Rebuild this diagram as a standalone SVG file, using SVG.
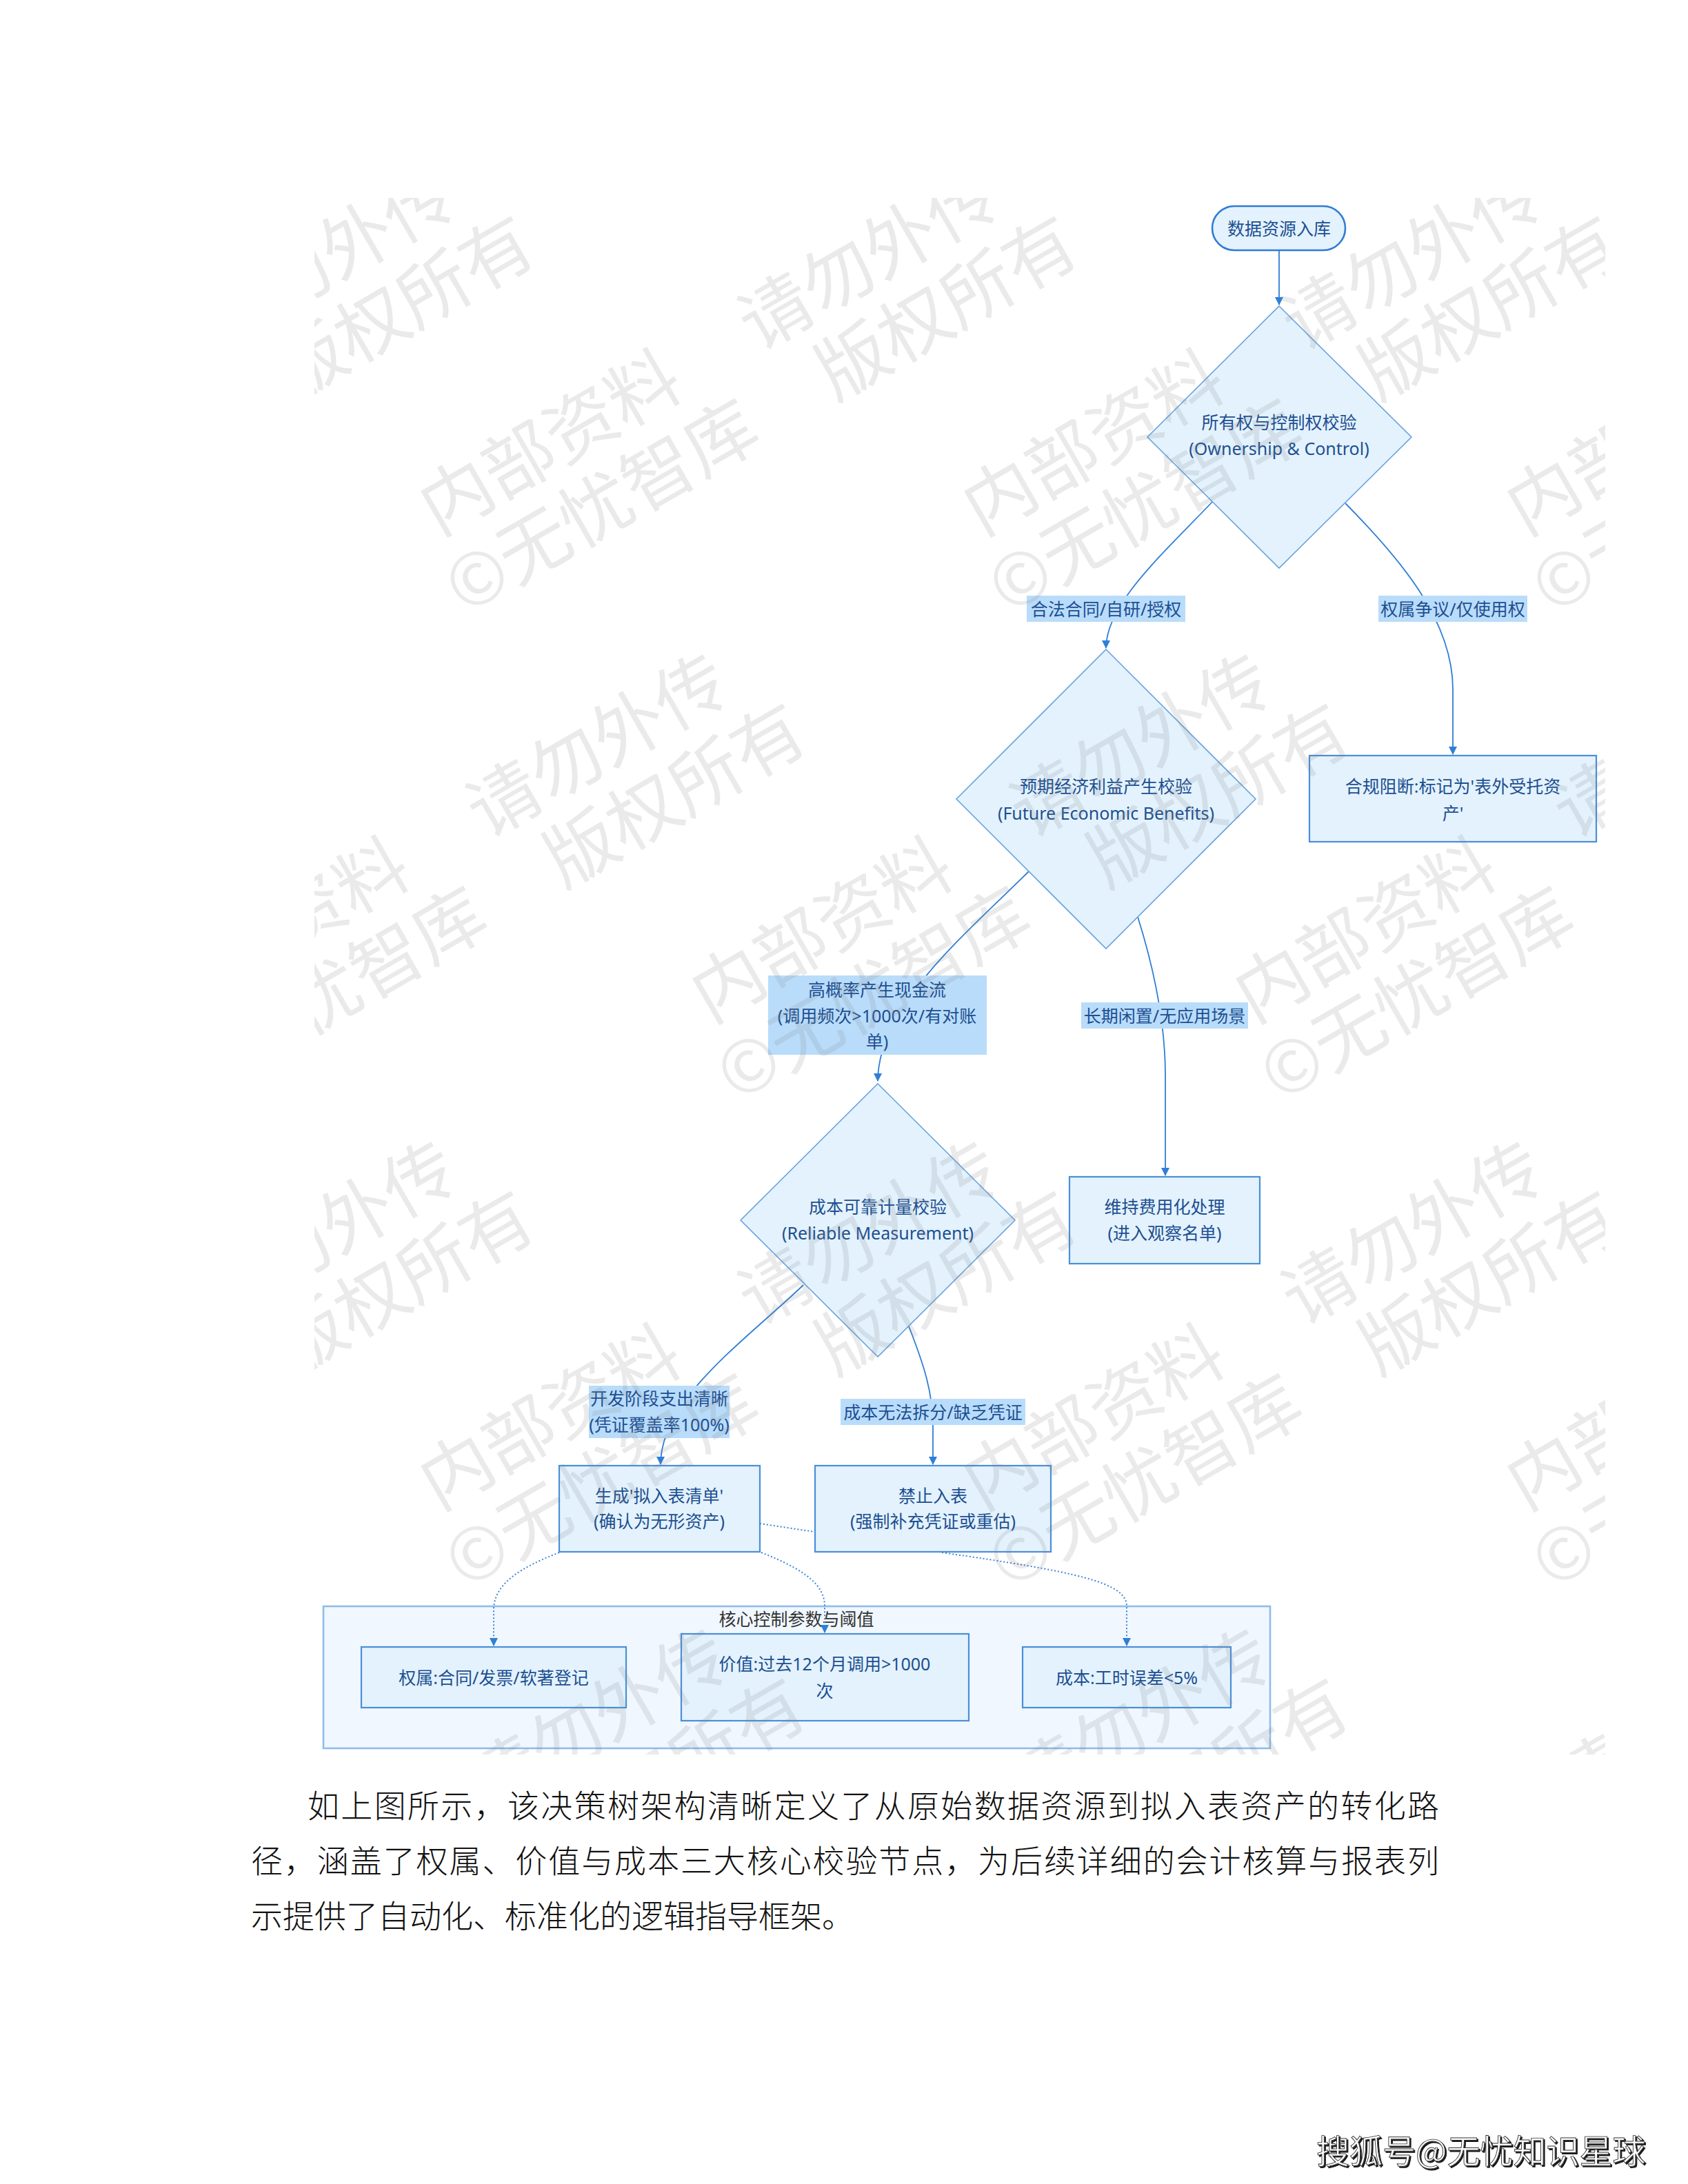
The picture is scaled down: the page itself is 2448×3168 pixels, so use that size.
<svg xmlns="http://www.w3.org/2000/svg" width="2448" height="3168" viewBox="0 0 2448 3168">
<defs>
<style>
.node{fill:#e3f2fd;stroke:#4a8fd8;stroke-width:2.2}
.pill{fill:#e3f2fd;stroke:#2f7bd6;stroke-width:2.6}
.dia{fill:#e3f2fd;stroke:#6aa3dd;stroke-width:1.6}
.cont{fill:#f0f7ff;stroke:#8fbde9;stroke-width:2.6}
.edge{fill:none;stroke:#2f7fd6;stroke-width:1.8}
.dot{fill:none;stroke:#3d86d6;stroke-width:2;stroke-dasharray:2 3}
.lbl{fill:#b9dcfa}
.t{font-family:"Noto Sans","Noto Sans CJK SC",sans-serif;font-size:25px;fill:#1d4f91;text-anchor:middle;dominant-baseline:central}
.title{fill:#333333}
.wm{font-family:"Noto Sans CJK SC",sans-serif;font-size:104px;fill:#808080;fill-opacity:0.17;word-spacing:95px}
.para{font-family:"Liberation Serif","Noto Sans CJK SC",serif;font-size:46px;font-weight:300;fill:#111111}
.foot{font-family:"Noto Sans CJK SC",sans-serif;font-size:48px;fill:#ffffff;stroke:#333333;stroke-width:0.9}
</style>
<marker id="arr" viewBox="0 0 12 12" refX="11" refY="6" markerWidth="12" markerHeight="12" markerUnits="userSpaceOnUse" orient="auto">
<path d="M0,0 L12,6 L0,12 z" fill="#2f7fd6"/>
</marker>
<clipPath id="wclip"><rect x="456" y="287" width="1872" height="2258"/></clipPath>
<filter id="sh" x="-5%" y="-20%" width="110%" height="140%"><feDropShadow dx="2" dy="2" stdDeviation="0.6" flood-color="#000000" flood-opacity="0.9"/></filter>
</defs>
<rect width="2448" height="3168" fill="#ffffff"/>

<g id="container">
<rect class="cont" x="469" y="2330" width="1373" height="206"/>
<text class="t title" x="1155" y="2348">核心控制参数与阈值</text>
</g>

<g id="connectors">
<path class="edge" d="M1855 363 L1855 442" marker-end="url(#arr)"/>
<path class="edge" d="M1758 728 C1690 800 1604 875 1604 940" marker-end="url(#arr)"/>
<path class="edge" d="M1951 730 C2030 810 2107 900 2107 1000 L2107 1094" marker-end="url(#arr)"/>
<path class="edge" d="M1492 1264 C1400 1355 1273 1460 1273 1568" marker-end="url(#arr)"/>
<path class="edge" d="M1650 1330 C1672 1400 1690 1480 1690 1560 L1690 1705" marker-end="url(#arr)"/>
<path class="edge" d="M1165 1864 C1080 1945 958 2030 958 2124" marker-end="url(#arr)"/>
<path class="edge" d="M1318 1924 C1340 1980 1353 2020 1353 2070 L1353 2124" marker-end="url(#arr)"/>
<path class="dot" d="M811 2252 C760 2272 716 2295 716 2335 L716 2387" marker-end="url(#arr)"/>
<path class="dot" d="M1104 2252 C1170 2278 1196 2300 1196 2330 L1196 2368" marker-end="url(#arr)"/>
<path class="dot" d="M1102 2210 L1182 2222"/>
<path class="dot" d="M1366 2252 C1560 2280 1634 2295 1634 2330 L1634 2387" marker-end="url(#arr)"/>
</g>

<g id="edge-labels">
<g id="lbl-legal"><rect class="lbl" x="1489" y="864" width="230" height="38"/><text class="t" x="1604" y="883">合法合同/自研/授权</text></g>
<g id="lbl-dispute"><rect class="lbl" x="1999" y="864" width="216" height="38"/><text class="t" x="2107" y="883">权属争议/仅使用权</text></g>
<g id="lbl-cash"><rect class="lbl" x="1114" y="1415" width="317" height="115"/><text class="t" x="1272" y="1435">高概率产生现金流</text><text class="t" x="1272" y="1473">(调用频次&gt;1000次/有对账</text><text class="t" x="1272" y="1510">单)</text></g>
<g id="lbl-idle"><rect class="lbl" x="1568" y="1454" width="242" height="38"/><text class="t" x="1689" y="1473">长期闲置/无应用场景</text></g>
<g id="lbl-clear"><rect class="lbl" x="854" y="2010" width="204" height="76"/><text class="t" x="956" y="2028">开发阶段支出清晰</text><text class="t" x="956" y="2066">(凭证覆盖率100%)</text></g>
<g id="lbl-nosplit"><rect class="lbl" x="1219" y="2029" width="268" height="38"/><text class="t" x="1353" y="2048">成本无法拆分/缺乏凭证</text></g>
</g>

<g id="start">
<rect class="pill" x="1758" y="299" width="193" height="64" rx="32" ry="32"/>
<text class="t" x="1855" y="331">数据资源入库</text>
</g>
<g id="ownership">
<polygon class="dia" points="1855,444 2047,634 1855,824 1664,634"/>
<text class="t" x="1855" y="612">所有权与控制权校验</text>
<text class="t" x="1855" y="650">(Ownership &amp; Control)</text>
</g>
<g id="benefits">
<polygon class="dia" points="1604,942 1821,1159 1604,1376 1387,1159"/>
<text class="t" x="1604" y="1140">预期经济利益产生校验</text>
<text class="t" x="1604" y="1179">(Future Economic Benefits)</text>
</g>
<g id="block">
<rect class="node" x="1899" y="1096" width="416" height="125"/>
<text class="t" x="2107" y="1140">合规阻断:标记为'表外受托资</text>
<text class="t" x="2107" y="1179">产'</text>
</g>
<g id="measure">
<polygon class="dia" points="1273,1572 1472,1770 1273,1968 1074,1770"/>
<text class="t" x="1273" y="1750">成本可靠计量校验</text>
<text class="t" x="1273" y="1788">(Reliable Measurement)</text>
</g>
<g id="expense">
<rect class="node" x="1551" y="1707" width="276" height="126"/>
<text class="t" x="1689" y="1750">维持费用化处理</text>
<text class="t" x="1689" y="1788">(进入观察名单)</text>
</g>
<g id="list">
<rect class="node" x="811" y="2126" width="291" height="125"/>
<text class="t" x="956" y="2169">生成'拟入表清单'</text>
<text class="t" x="956" y="2206">(确认为无形资产)</text>
</g>
<g id="forbid">
<rect class="node" x="1182" y="2126" width="342" height="125"/>
<text class="t" x="1353" y="2169">禁止入表</text>
<text class="t" x="1353" y="2206">(强制补充凭证或重估)</text>
</g>
<g id="p-owner">
<rect class="node" x="524" y="2389" width="384" height="88"/>
<text class="t" x="716" y="2433">权属:合同/发票/软著登记</text>
</g>
<g id="p-value">
<rect class="node" x="988" y="2370" width="417" height="126"/>
<text class="t" x="1196" y="2413">价值:过去12个月调用&gt;1000</text>
<text class="t" x="1196" y="2452">次</text>
</g>
<g id="p-cost">
<rect class="node" x="1483" y="2389" width="302" height="88"/>
<text class="t" x="1634" y="2433">成本:工时误差&lt;5%</text>
</g>

<g id="watermark" clip-path="url(#wclip)" class="wm">
<g transform="translate(-152,778) rotate(-30)"><text x="0" y="0">内部资料 请勿外传</text><text x="-25" y="118">©无忧智库 版权所有</text></g>
<g transform="translate(636,778) rotate(-30)"><text x="0" y="0">内部资料 请勿外传</text><text x="-25" y="118">©无忧智库 版权所有</text></g>
<g transform="translate(1424,778) rotate(-30)"><text x="0" y="0">内部资料 请勿外传</text><text x="-25" y="118">©无忧智库 版权所有</text></g>
<g transform="translate(2212,778) rotate(-30)"><text x="0" y="0">内部资料 请勿外传</text><text x="-25" y="118">©无忧智库 版权所有</text></g>
<g transform="translate(242,1485) rotate(-30)"><text x="0" y="0">内部资料 请勿外传</text><text x="-25" y="118">©无忧智库 版权所有</text></g>
<g transform="translate(1030,1485) rotate(-30)"><text x="0" y="0">内部资料 请勿外传</text><text x="-25" y="118">©无忧智库 版权所有</text></g>
<g transform="translate(1818,1485) rotate(-30)"><text x="0" y="0">内部资料 请勿外传</text><text x="-25" y="118">©无忧智库 版权所有</text></g>
<g transform="translate(-152,2192) rotate(-30)"><text x="0" y="0">内部资料 请勿外传</text><text x="-25" y="118">©无忧智库 版权所有</text></g>
<g transform="translate(636,2192) rotate(-30)"><text x="0" y="0">内部资料 请勿外传</text><text x="-25" y="118">©无忧智库 版权所有</text></g>
<g transform="translate(1424,2192) rotate(-30)"><text x="0" y="0">内部资料 请勿外传</text><text x="-25" y="118">©无忧智库 版权所有</text></g>
<g transform="translate(2212,2192) rotate(-30)"><text x="0" y="0">内部资料 请勿外传</text><text x="-25" y="118">©无忧智库 版权所有</text></g>
<g transform="translate(242,2899) rotate(-30)"><text x="0" y="0">内部资料 请勿外传</text><text x="-25" y="118">©无忧智库 版权所有</text></g>
<g transform="translate(1030,2899) rotate(-30)"><text x="0" y="0">内部资料 请勿外传</text><text x="-25" y="118">©无忧智库 版权所有</text></g>
<g transform="translate(1818,2899) rotate(-30)"><text x="0" y="0">内部资料 请勿外传</text><text x="-25" y="118">©无忧智库 版权所有</text></g>
</g>

<g id="paragraph" class="para">
<text x="446" y="2636" textLength="1641" lengthAdjust="spacing">如上图所示，该决策树架构清晰定义了从原始数据资源到拟入表资产的转化路</text>
<text x="364" y="2716" textLength="1723" lengthAdjust="spacing">径，涵盖了权属、价值与成本三大核心校验节点，为后续详细的会计核算与报表列</text>
<text x="364" y="2796">示提供了自动化、标准化的逻辑指导框架。</text>
</g>
<text class="foot" x="1909" y="3138" filter="url(#sh)">搜狐号@无忧知识星球</text>
</svg>
